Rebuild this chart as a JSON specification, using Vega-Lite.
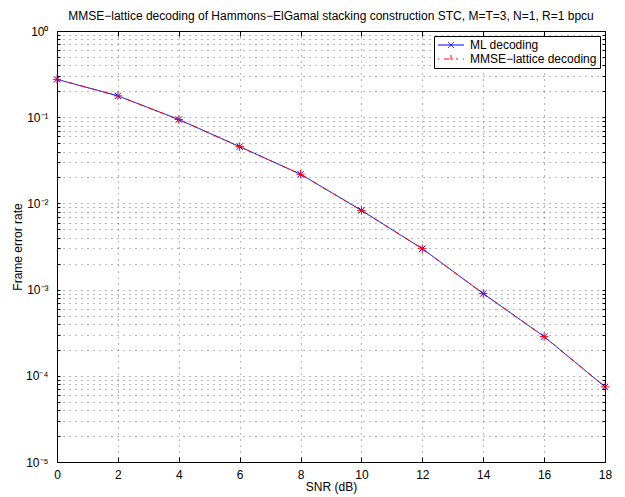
{
  "$schema": "https://vega.github.io/schema/vega-lite/v6.json",
  "width": 548,
  "height": 431,
  "autosize": {"type": "none"},
  "padding": {"left": 57, "top": 31, "right": 20, "bottom": 35},
  "background": "white",
  "config": {
    "font": "Liberation Sans",
    "view": {"stroke": "black", "strokeWidth": 1}
  },
  "title": {
    "text": "MMSE−lattice decoding of Hammons−ElGamal stacking construction STC, M=T=3, N=1, R=1 bpcu",
    "font": "Liberation Sans",
    "fontSize": 12,
    "fontWeight": "normal",
    "color": "black",
    "anchor": "middle",
    "frame": "group",
    "offset": 2
  },
  "data": {
    "values": [
      {"snr": 0, "fer": 0.275, "series": "ML decoding"},
      {"snr": 2, "fer": 0.177, "series": "ML decoding"},
      {"snr": 4, "fer": 0.094, "series": "ML decoding"},
      {"snr": 6, "fer": 0.0455, "series": "ML decoding"},
      {"snr": 8, "fer": 0.0218, "series": "ML decoding"},
      {"snr": 10, "fer": 0.0083, "series": "ML decoding"},
      {"snr": 12, "fer": 0.00298, "series": "ML decoding"},
      {"snr": 14, "fer": 0.0009, "series": "ML decoding"},
      {"snr": 16, "fer": 0.000285, "series": "ML decoding"},
      {"snr": 18, "fer": 0.0000745, "series": "ML decoding"},
      {"snr": 0, "fer": 0.275, "series": "MMSE−lattice decoding"},
      {"snr": 2, "fer": 0.177, "series": "MMSE−lattice decoding"},
      {"snr": 4, "fer": 0.094, "series": "MMSE−lattice decoding"},
      {"snr": 6, "fer": 0.0455, "series": "MMSE−lattice decoding"},
      {"snr": 8, "fer": 0.0218, "series": "MMSE−lattice decoding"},
      {"snr": 10, "fer": 0.0083, "series": "MMSE−lattice decoding"},
      {"snr": 12, "fer": 0.00298, "series": "MMSE−lattice decoding"},
      {"snr": 14, "fer": 0.0009, "series": "MMSE−lattice decoding"},
      {"snr": 16, "fer": 0.000285, "series": "MMSE−lattice decoding"},
      {"snr": 18, "fer": 0.0000745, "series": "MMSE−lattice decoding"}
    ]
  },
  "resolve": {"axis": {"x": "independent", "y": "independent"}},
  "layer": [
    {
      "mark": {"type": "line", "strokeWidth": 1},
      "encoding": {
        "x": {
          "field": "snr", "type": "quantitative",
          "scale": {"domain": [0, 18], "nice": false, "zero": false},
          "axis": {
            "orient": "bottom",
            "values": [0, 2, 4, 6, 8, 10, 12, 14, 16, 18],
            "format": "d",
            "title": "SNR (dB)",
            "titleFont": "Liberation Sans",
            "titleFontSize": 12,
            "titleFontWeight": "normal",
            "titleColor": "black",
            "titlePadding": 1,
            "labelFont": "Liberation Sans",
            "labelFontSize": 12,
            "labelColor": "black",
            "labelPadding": 12,
            "labelFlush": false,
            "labelOverlap": false,
            "tickSize": -5,
            "tickColor": "black",
            "domain": false,
            "grid": true,
            "gridColor": "#000000",
            "gridOpacity": 0.55,
            "gridDash": [1, 5]
          }
        },
        "y": {
          "field": "fer", "type": "quantitative",
          "scale": {"type": "log", "domain": [0.00001, 1], "nice": false},
          "axis": {
            "orient": "left",
            "values": [0.00001, 0.00002, 0.00003, 0.00004, 0.00005, 0.00006, 0.00007, 0.00008, 0.00009,
                       0.0001, 0.0002, 0.0003, 0.0004, 0.0005, 0.0006, 0.0007, 0.0008, 0.0009,
                       0.001, 0.002, 0.003, 0.004, 0.005, 0.006, 0.007, 0.008, 0.009,
                       0.01, 0.02, 0.03, 0.04, 0.05, 0.06, 0.07, 0.08, 0.09,
                       0.1, 0.2, 0.3, 0.4, 0.5, 0.6, 0.7, 0.8, 0.9, 1],
            "labelExpr": "abs(log(datum.value)/LN10 - round(log(datum.value)/LN10)) < 0.001 ? '10' + (datum.value < 0.5 ? '⁻' : '') + ['⁰','¹','²','³','⁴','⁵'][round(-log(datum.value)/LN10)] : ''",
            "title": "Frame error rate",
            "titleFont": "Liberation Sans",
            "titleFontSize": 12,
            "titleFontWeight": "normal",
            "titleColor": "black",
            "titleX": -33,
            "labelFont": "Liberation Sans",
            "labelFontSize": 12,
            "labelColor": "black",
            "labelPadding": 12,
            "labelFlush": false,
            "labelOverlap": false,
            "labelBound": false,
            "tickSize": -3,
            "tickColor": "black",
            "domain": false,
            "grid": true,
            "gridColor": "#000000",
            "gridOpacity": 0.55,
            "gridDash": [1, 5]
          }
        },
        "color": {
          "field": "series", "type": "nominal",
          "scale": {"domain": ["ML decoding", "MMSE−lattice decoding"], "range": ["#0000ff", "#ff0000"]},
          "legend": {
            "title": null,
            "orient": "top-right",
            "offset": 5,
            "padding": 3,
            "strokeColor": "black",
            "fillColor": "white",
            "cornerRadius": 0,
            "labelFont": "Liberation Sans",
            "labelFontSize": 12,
            "labelColor": "black",
            "labelOffset": 13,
            "symbolOffset": 8,
            "symbolSize": 75,
            "symbolStrokeWidth": 1,
            "symbolFillColor": "transparent",
            "symbolOpacity": 1,
            "rowPadding": 2,
            "symbolType": {"expr": "datum.value === 'ML decoding' ? 'M-3,0L3,0M-0.7,-0.7L0.7,0.7M-0.7,0.7L0.7,-0.7' : 'M-3,0L-2.75,0M-1.6,0L1.6,0M2.75,0L3,0M0,-0.92L0,0.92'"}
          }
        },
        "strokeDash": {
          "field": "series", "type": "nominal",
          "scale": {"domain": ["ML decoding", "MMSE−lattice decoding"], "range": [[1, 0], [5, 3, 1, 3]]},
          "legend": null
        }
      }
    },
    {
      "transform": [{"filter": "datum.series === 'ML decoding'"}],
      "mark": {"type": "point", "filled": false, "strokeWidth": 1, "opacity": 1, "color": "#0000ff", "shape": "M-1,-1L1,1M-1,1L1,-1", "size": 40},
      "encoding": {
        "x": {"field": "snr", "type": "quantitative", "axis": null},
        "y": {"field": "fer", "type": "quantitative", "axis": null}
      }
    },
    {
      "transform": [{"filter": "datum.series === 'MMSE−lattice decoding'"}],
      "mark": {"type": "point", "filled": false, "strokeWidth": 1, "opacity": 1, "color": "#ff0000", "shape": "M-1,0L1,0M0,-1L0,1", "size": 72},
      "encoding": {
        "x": {"field": "snr", "type": "quantitative", "axis": null},
        "y": {"field": "fer", "type": "quantitative", "axis": null}
      }
    },
    {
      "mark": {"type": "point", "opacity": 0},
      "encoding": {
        "x": {
          "field": "snr", "type": "quantitative",
          "axis": {
            "orient": "top",
            "values": [0, 2, 4, 6, 8, 10, 12, 14, 16, 18],
            "labels": false,
            "title": null,
            "grid": false,
            "domain": false,
            "tickSize": -5,
            "tickColor": "black"
          }
        },
        "y": {
          "field": "fer", "type": "quantitative",
          "axis": {
            "orient": "right",
            "values": [0.00001, 0.00002, 0.00003, 0.00004, 0.00005, 0.00006, 0.00007, 0.00008, 0.00009,
                       0.0001, 0.0002, 0.0003, 0.0004, 0.0005, 0.0006, 0.0007, 0.0008, 0.0009,
                       0.001, 0.002, 0.003, 0.004, 0.005, 0.006, 0.007, 0.008, 0.009,
                       0.01, 0.02, 0.03, 0.04, 0.05, 0.06, 0.07, 0.08, 0.09,
                       0.1, 0.2, 0.3, 0.4, 0.5, 0.6, 0.7, 0.8, 0.9, 1],
            "labels": false,
            "title": null,
            "grid": false,
            "domain": false,
            "tickSize": -3,
            "tickColor": "black"
          }
        }
      }
    }
  ]
}
